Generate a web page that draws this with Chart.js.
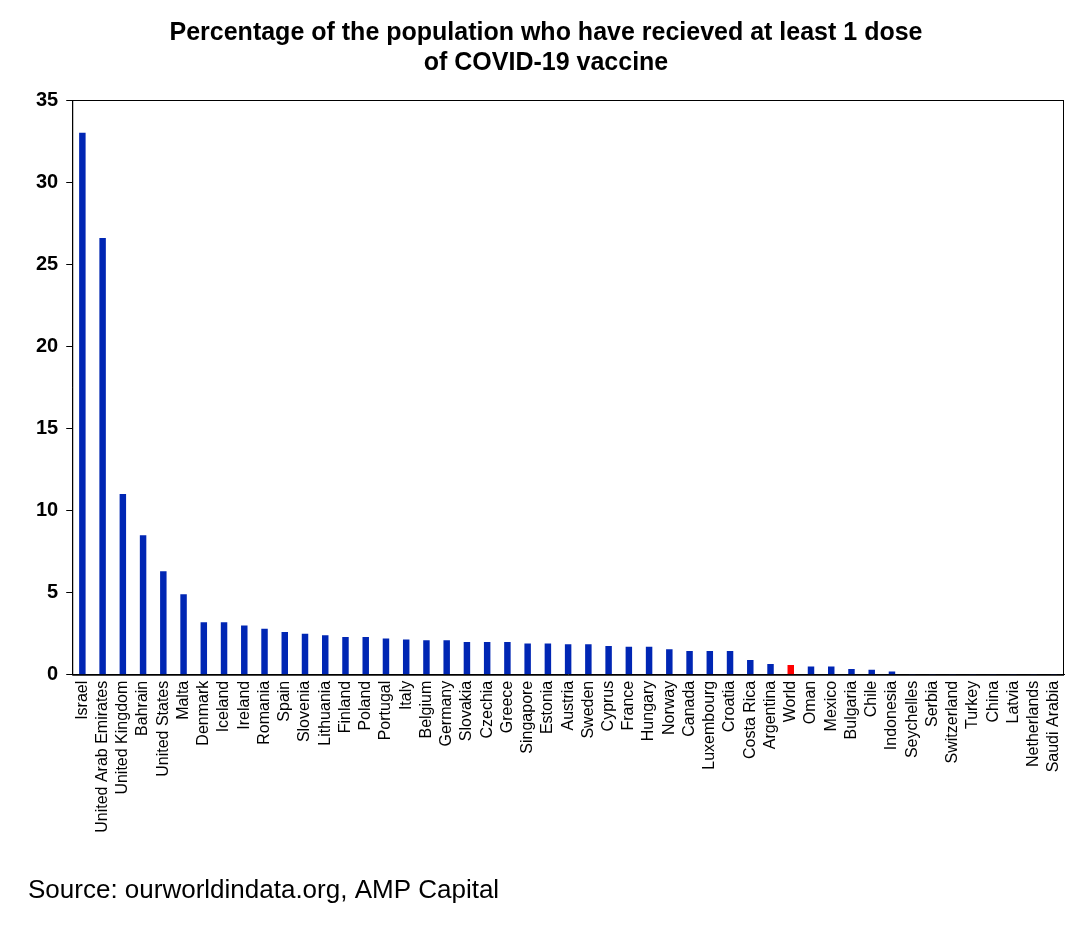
<!DOCTYPE html>
<html><head><meta charset="utf-8">
<script src="https://cdn.jsdelivr.net/npm/chart.js@4"></script>
<style>html,body{margin:0;padding:0;background:#fff}#c{display:block}</style>
</head><body>
<div style="width:1084px;height:926px"><canvas id="c" width="1084" height="926"></canvas></div>
<script>
const countries=["Israel","United Arab Emirates","United Kingdom","Bahrain","United States","Malta","Denmark","Iceland","Ireland","Romania","Spain","Slovenia","Lithuania","Finland","Poland","Portugal","Italy","Belgium","Germany","Slovakia","Czechia","Greece","Singapore","Estonia","Austria","Sweden","Cyprus","France","Hungary","Norway","Canada","Luxembourg","Croatia","Costa Rica","Argentina","World","Oman","Mexico","Bulgaria","Chile","Indonesia","Seychelles","Serbia","Switzerland","Turkey","China","Latvia","Netherlands","Saudi Arabia"];
const percentDosed=[33.0,26.6,11.0,8.5,6.3,4.9,3.2,3.2,3.0,2.8,2.6,2.5,2.4,2.3,2.3,2.2,2.15,2.1,2.1,2.0,2.0,2.0,1.9,1.9,1.85,1.85,1.75,1.7,1.7,1.55,1.45,1.45,1.45,0.9,0.65,0.6,0.5,0.5,0.35,0.3,0.2,0.02,0.02,0.02,0.01,0.01,0.01,0.01,0.01];
const yTicks=[0,5,10,15,20,25,30,35];
const colors=countries.map(c=>c==="World"?"#ff0000":"#0026b4");
new Chart(document.getElementById('c'),{
 type:'bar',
 data:{labels:countries,datasets:[{data:percentDosed,backgroundColor:colors,barPercentage:0.32,categoryPercentage:1}]},
 options:{responsive:false,animation:false,
  layout:{padding:{left:28,right:20,top:0,bottom:20}},
  plugins:{legend:{display:false},tooltip:{enabled:false},
   title:{display:true,text:["Percentage of the population who have recieved at least 1 dose","of COVID-19 vaccine"],font:{family:"Liberation Sans",size:25,weight:'bold'},color:'#000',padding:{top:18,bottom:22},lineHeight:1.3},
   subtitle:{display:true,position:'bottom',align:'start',text:"Source: ourworldindata.org, AMP Capital",font:{family:"Liberation Sans",size:26},color:'#000',padding:{top:36,bottom:0}}
  },
  scales:{
   x:{grid:{display:false,drawTicks:false},border:{display:true,color:'#000'},
      ticks:{autoSkip:false,maxRotation:90,minRotation:90,color:'#000',font:{family:"Liberation Sans",size:16},padding:6}},
   y:{min:0,max:35,afterBuildTicks:ax=>{ax.ticks=yTicks.map(v=>({value:v}))},
      grid:{display:true,drawTicks:true,tickLength:6,drawOnChartArea:false,color:'#000'},border:{color:'#000'},
      ticks:{color:'#000',font:{family:"Liberation Sans",size:20,weight:'bold'},padding:8}}
  }
 },
 plugins:[{id:'box',afterDraw(ch){const a=ch.chartArea,g=ch.ctx;g.save();g.strokeStyle='#000';g.lineWidth=1;g.strokeRect(a.left+0.5,a.top+0.5,a.right-a.left-1,a.bottom-a.top);g.restore();}}]
});
</script></body></html>
